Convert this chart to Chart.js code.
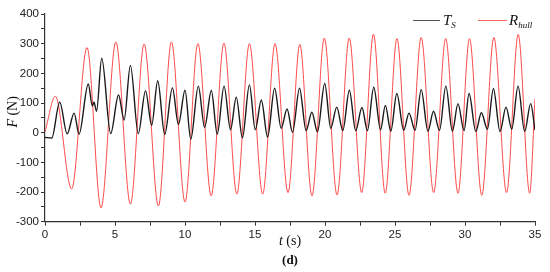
<!DOCTYPE html>
<html>
<head>
<meta charset="utf-8">
<script src="https://cdn.jsdelivr.net/npm/chart.js@4"></script>
<style>
  html, body { margin: 0; padding: 0; background: #fff; }
  #wrap { width: 550px; height: 272px; position: relative; }
</style>
</head>
<body>
<div id="wrap"><canvas id="myChart"></canvas></div>
<script>
// T_S (black) - peaks and troughs
const tsTime = [0, 0.48, 1.05, 1.58, 2.08, 2.43, 3.09, 3.38, 3.5, 3.68, 4.05, 4.69,
  5.25, 5.65, 6.1, 6.66, 7.18, 7.62, 8.05, 8.55, 9.1, 9.53, 10.0, 10.41,
  10.95, 11.4, 11.88, 12.3, 12.79, 13.25, 13.66, 14.1, 14.6, 15.02, 15.45, 15.9,
  16.4, 16.87, 17.29, 17.68, 18.18, 18.65, 19.06, 19.46, 19.98, 20.41, 20.84, 21.27,
  21.74, 22.19, 22.64, 23.03, 23.48, 23.97, 24.31, 24.7, 25.13, 25.62, 26.0, 26.43,
  26.87, 27.35, 27.75, 28.18, 28.63, 29.1, 29.5, 29.93, 30.29, 30.77, 31.17, 31.6,
  32.03, 32.5, 32.93, 33.34, 33.79, 34.26, 34.69, 35];
const tsForce = [-16, -18, 103, -4, 66, -5, 164, 90, 103, 72, 251, -3,
  127, 43, 227, -3, 141, 25, 175, -6, 151, 28, 143, -22,
  157, 18, 142, -5, 157, 10, 120, -17, 161, 10, 110, -15,
  150, 15, 80, 1, 150, 7, 69, 3, 166, 15, 86, 7,
  143, 7, 85, 7, 153, 10, 92, 5, 132, 8, 66, 8,
  145, 5, 72, 8, 157, 5, 98, 7, 132, 4, 67, 12,
  148, 4, 86, 12, 157, 4, 98, 9];

// R_hull (red)
const rhTime = [0, 0.74, 1.9, 3.0, 4.0, 5.06, 6.1, 7.08, 8.1, 9.03, 10.0, 10.92,
  11.87, 12.78, 13.7, 14.6, 15.55, 16.43, 17.36, 18.2, 19.07, 19.95, 20.86, 21.73,
  22.62, 23.46, 24.3, 25.14, 26.0, 26.87, 27.76, 28.62, 29.5, 30.32, 31.2, 32.06,
  32.97, 33.8, 34.62, 35];
const rhForce = [3, 123, -190, 287, -253, 306, -241, 299, -247, 306, -234, 300,
  -213, 302, -207, 300, -207, 300, -202, 297, -213, 319, -210, 319,
  -202, 332, -204, 317, -211, 321, -202, 317, -204, 317, -211, 321,
  -202, 331, -204, 115];

const xTicks = [0, 5, 10, 15, 20, 25, 30, 35];
const yTicks = [-300, -200, -100, 0, 100, 200, 300, 400];

const serif = "'Liberation Serif', 'Times New Roman', serif";

function toPoints(xs, ys) {
  return xs.map((x, i) => ({ x: x, y: ys[i] }));
}

// italic/upright pieces written one after another
function drawPieces(ctx, pieces, x, y, align) {
  let w = 0;
  pieces.forEach(p => { ctx.font = p.font; w += ctx.measureText(p.text).width; });
  let cx = align === 'center' ? x - w / 2 : x;
  pieces.forEach(p => {
    ctx.font = p.font;
    ctx.fillText(p.text, cx, y + (p.dy || 0));
    cx += ctx.measureText(p.text).width;
  });
}

const textPlugin = {
  id: 'textPlugin',
  afterDraw(chart) {
    const ctx = chart.ctx;
    const a = chart.chartArea;
    ctx.save();
    ctx.fillStyle = '#111';
    ctx.textBaseline = 'alphabetic';

    // y title
    ctx.save();
    ctx.translate(17, (a.top + a.bottom) / 2 - 6);
    ctx.rotate(-Math.PI / 2);
    drawPieces(ctx, [
      { text: 'F', font: 'italic 14px ' + serif },
      { text: ' (N)', font: '14px ' + serif }
    ], 0, 0, 'center');
    ctx.restore();

    // x title
    drawPieces(ctx, [
      { text: 't', font: 'italic 14px ' + serif },
      { text: ' (s)', font: '14px ' + serif }
    ], 290, 245, 'center');

    drawPieces(ctx, [{ text: '(d)', font: 'bold 13px ' + serif }], 290, 264, 'center');

    // legend
    ctx.lineWidth = 1;
    ctx.strokeStyle = '#555';
    ctx.beginPath(); ctx.moveTo(413, 20.5); ctx.lineTo(440, 20.5); ctx.stroke();
    drawPieces(ctx, [
      { text: 'T', font: 'italic 15px ' + serif },
      { text: 'S', font: 'italic 9px ' + serif, dy: 3 }
    ], 443, 25, 'left');

    ctx.strokeStyle = 'rgb(255,100,100)';
    ctx.beginPath(); ctx.moveTo(478, 20.5); ctx.lineTo(507, 20.5); ctx.stroke();
    drawPieces(ctx, [
      { text: 'R', font: 'italic 15px ' + serif },
      { text: 'hull', font: 'italic 9px ' + serif, dy: 3 }
    ], 509, 25, 'left');
    ctx.restore();
  }
};

new Chart(document.querySelector('#myChart'), {
  type: 'line',
  data: {
    datasets: [{
      label: 'T_S',
      data: toPoints(tsTime, tsForce),
      borderColor: '#1a1a1a',
      borderWidth: 1.4,
      pointRadius: 0,
      cubicInterpolationMode: 'monotone'
    }, {
      label: 'R_hull',
      data: toPoints(rhTime, rhForce),
      borderColor: 'rgb(255,75,75)',
      borderWidth: 1,
      pointRadius: 0,
      cubicInterpolationMode: 'monotone'
    }]
  },
  options: {
    responsive: true,
    maintainAspectRatio: false,
    animation: false,
    layout: { padding: { left: 14, right: 15, top: 14, bottom: 28.5 } },
    plugins: {
      legend: { display: false },
      tooltip: { enabled: false }
    },
    scales: {
      x: {
        type: 'linear',
        min: 0,
        max: 35,
        grid: { drawOnChartArea: false, tickLength: 4, color: '#333' },
        border: { display: true, color: '#333', width: 1.2 },
        ticks: {
          stepSize: 2.5,
          autoSkip: false,
          maxRotation: 0,
          padding: 2,
          color: '#222',
          font: { family: "'Liberation Sans', Arial, sans-serif", size: 11.5 },
          callback: v => xTicks.includes(v) ? String(v) : ''
        }
      },
      y: {
        min: -300,
        max: 400,
        grid: { drawOnChartArea: false, tickLength: 4, color: '#333' },
        border: { display: true, color: '#333', width: 1.2 },
        ticks: {
          stepSize: 50,
          autoSkip: false,
          padding: 2,
          color: '#222',
          font: { family: "'Liberation Sans', Arial, sans-serif", size: 11.5 },
          callback: v => yTicks.includes(v) ? String(v) : ''
        }
      }
    }
  },
  plugins: [textPlugin]
});
</script>
</body>
</html>
